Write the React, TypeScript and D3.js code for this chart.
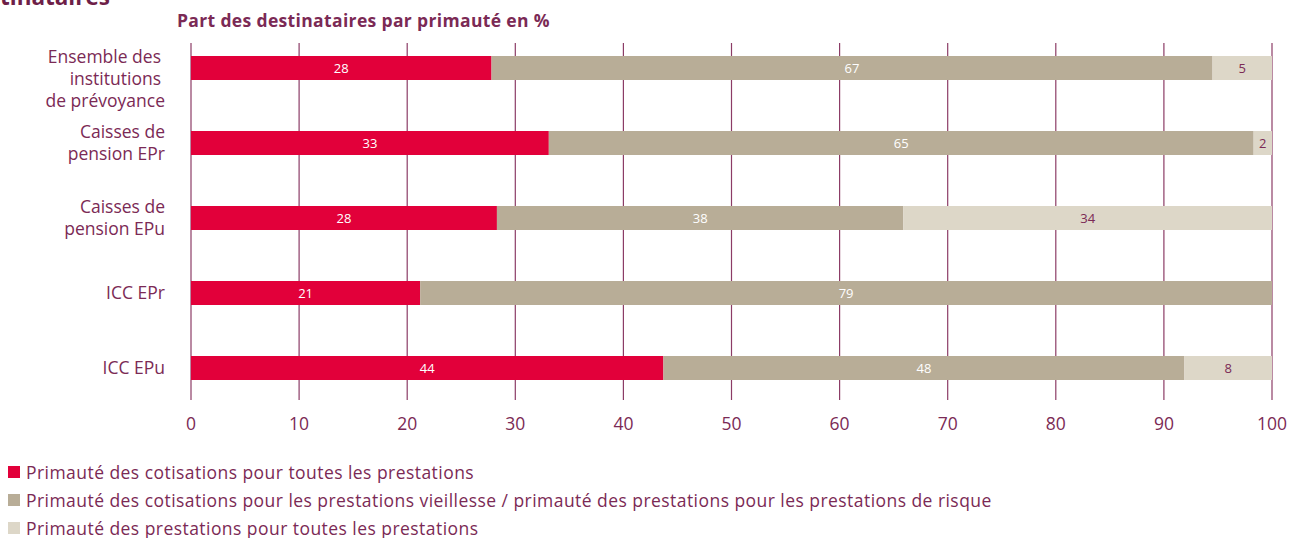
import React from "react";
import * as d3 from "d3";

const categories = [
  ["Ensemble des", "institutions", "de prévoyance"],
  ["Caisses de", "pension EPr"],
  ["Caisses de", "pension EPu"],
  ["ICC EPr"],
  ["ICC EPu"],
];
const seriesNames = [
  "Primauté des cotisations pour toutes les prestations",
  "Primauté des cotisations pour les prestations vieillesse / primauté des prestations pour les prestations de risque",
  "Primauté des prestations pour toutes les prestations",
];
const contribAll = [27.8, 33.1, 28.3, 21.2, 43.7];
const mixed = [66.7, 65.2, 37.6, 78.8, 48.2];
const benefitAll = [5.5, 1.7, 34.1, 0, 8.1];
const labelsContrib = ["28", "33", "28", "21", "44"];
const labelsMixed = ["67", "65", "38", "79", "48"];
const labelsBenefit = ["5", "2", "34", "", "8"];
const ticks = [0, 10, 20, 30, 40, 50, 60, 70, 80, 90, 100];

const W = 1295;
const H = 538;
const RED = "#e2003a";
const GRAY = "#b8ad97";
const LIGHT = "#ddd7c8";
const MAROON = "#7b2a55";
const GRID = "#8c3c66";
const FONT = "'Open Sans', 'Noto Sans', sans-serif";

export default function App() {
  const x = d3.scaleLinear().domain([0, 100]).range([191, 1272]);
  const keys = categories.map((_, i) => String(i));
  const y = d3.scalePoint<string>().domain(keys).range([68, 368]);
  const barH = 24;

  const rows = categories.map((c, i) => ({
    key: String(i),
    c: contribAll[i],
    m: mixed[i],
    b: benefitAll[i],
  }));
  const stack = d3.stack<any>().keys(["c", "m", "b"])(rows);
  const colors = [RED, GRAY, LIGHT];
  const textColors = ["#ffffff", "#ffffff", MAROON];
  const labelSets = [labelsContrib, labelsMixed, labelsBenefit];

  return (
    <div style={{ position: "absolute", left: 0, top: 0 }}>
      <svg width={W} height={H} style={{ display: "block", fontFamily: FONT }}>
        <text x={0} y={5} fontSize={22.5} fontWeight={700} fill="#6e1f48">
          tinataires
        </text>
        <text x={177} y={27} fontSize={17.5} fontWeight={700} fill={MAROON} letterSpacing={0.35}>
          Part des destinataires par primauté en %
        </text>
        {ticks.map((t) => (
          <g key={t}>
            <line x1={x(t)} x2={x(t)} y1={43} y2={400} stroke={GRID} strokeWidth={1.2} />
            <text x={x(t)} y={429.5} textAnchor="middle" fontSize={17.5} fill={MAROON}>
              {t}
            </text>
          </g>
        ))}
        {stack.map((layer, si) => (
          <g key={si}>
            {layer.map((d, i) => {
              const x0 = x(d[0]);
              const x1 = x(d[1]);
              const yc = y(keys[i]) as number;
              if (x1 - x0 <= 0) return null;
              return (
                <g key={i}>
                  <rect x={x0} y={yc - barH / 2} width={x1 - x0} height={barH} fill={colors[si]} />
                  {labelSets[si][i] && (
                    <text
                      x={(x0 + x1) / 2}
                      y={yc + 5}
                      textAnchor="middle"
                      fontSize={13}
                      fill={textColors[si]}
                    >
                      {labelSets[si][i]}
                    </text>
                  )}
                </g>
              );
            })}
          </g>
        ))}
        {categories.map((lines, i) => {
          const yc = y(keys[i]) as number;
          return (
            <text key={i} textAnchor="end" fontSize={17.5} fill={MAROON}>
              {lines.map((l, j) => (
                <tspan
                  key={j}
                  x={lines.length > 1 && j < lines.length - 1 && i === 0 ? 161 : 165}
                  y={(lines.length > 1 ? yc - 11 + j * 22 : yc) + 6}
                >
                  {l}
                </tspan>
              ))}
            </text>
          );
        })}
        {seriesNames.map((s, i) => (
          <g key={i}>
            <rect x={8} y={466 + i * 28} width={12} height={12} fill={colors[i]} />
            <text x={26} y={478.5 + i * 28} fontSize={17.5} fill={MAROON} letterSpacing={0.45}>
              {s}
            </text>
          </g>
        ))}
      </svg>
    </div>
  );
}
